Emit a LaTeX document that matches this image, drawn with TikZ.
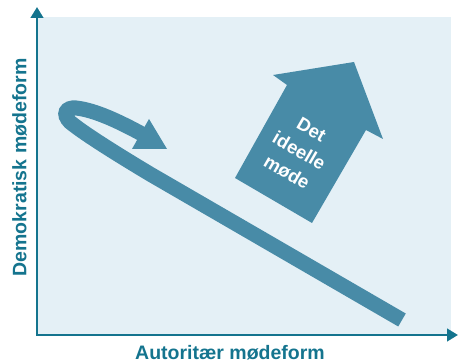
\documentclass[tikz,border=0pt]{standalone}
\usepackage{fontspec}
\setmainfont{Liberation Sans}
\usetikzlibrary{arrows.meta}
\definecolor{axisteal}{RGB}{20,116,142}
\definecolor{shapeblue}{RGB}{72,139,167}
\definecolor{panelblue}{RGB}{228,240,246}

\begin{document}
\begin{tikzpicture}[x=1pt,y=-1pt,
	axis/.style={draw=axisteal, line width=2.8pt, line cap=rect, -{Triangle[length=11pt,width=12.5pt]}},
	lbl/.style={text=axisteal, font=\fontsize{19.5}{22}\selectfont\bfseries, inner sep=0pt},
	band/.style={draw=shapeblue, line width=15pt}]
	\useasboundingbox (0,0) rectangle (458,363);
	\fill[panelblue] (37,17.5) rectangle (451,335);
	% axes
	\coordinate (origin) at (37,335);
	\coordinate (ytip) at (37,7);
	\coordinate (xtip) at (458,335);
	\draw[axis] (origin) -- (ytip);
	\draw[axis] (origin) -- (xtip);
	\node[lbl, anchor=base] (xlabel) at (230,359.5) {Autoritær mødeform};
	\node[lbl, anchor=base, rotate=90] (ylabel) at (26.5,167.5) {Demokratisk mødeform};
	% the loop
	\draw[band] (402,320) -- (150,174) .. controls (110,150) and (82,132) .. (70,122)
		.. controls (62,114) and (66,107) .. (76,108) .. controls (95,110) and (120,122) .. (142,134);
	\fill[shapeblue] (132,149) -- (167,149) -- (149,119) -- cycle;
	% the big arrow
	\fill[shapeblue] (235,178) -- (312,223) -- (366,130) -- (383,139) -- (354,62) -- (273,75) -- (287,85) -- cycle;
	\node[text=white, font=\fontsize{18.5}{24.5}\selectfont\bfseries, align=center, rotate=-30, inner sep=0pt] (ideal) at (299,151) {Det\\ideelle\\møde};
\end{tikzpicture}
\end{document}
